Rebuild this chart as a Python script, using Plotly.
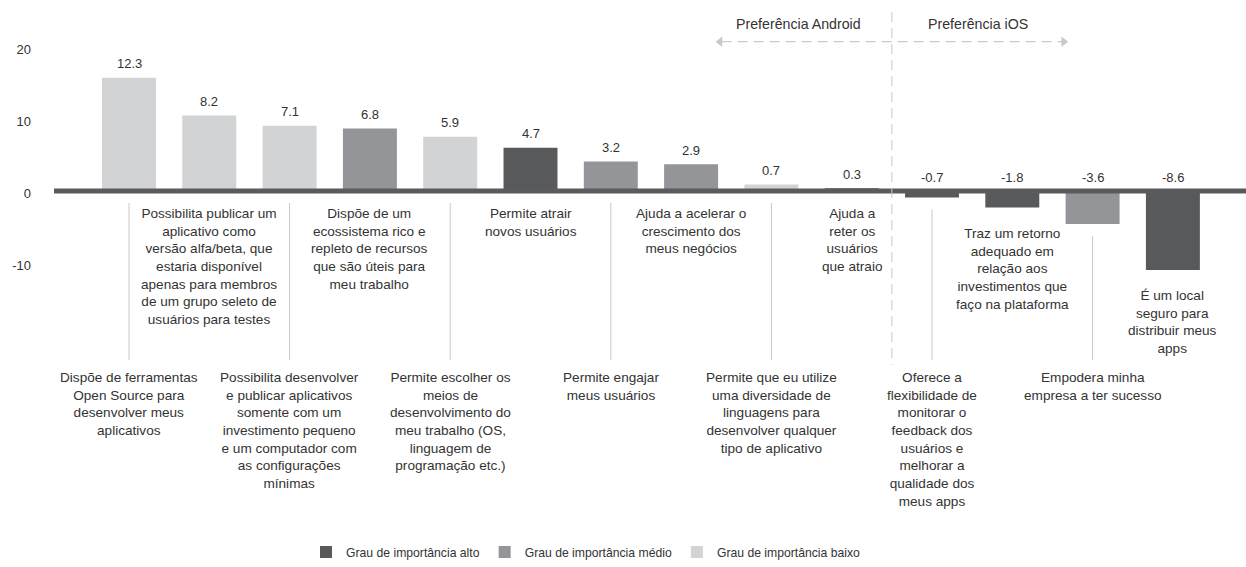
import plotly.graph_objects as go

# ---- data -------------------------------------------------------------
categories = [
    "Dispõe de ferramentas<br>Open Source para<br>desenvolver meus<br>aplicativos",
    "Possibilita publicar um<br>aplicativo como<br>versão alfa/beta, que<br>estaria disponível<br>apenas para membros<br>de um grupo seleto de<br>usuários para testes",
    "Possibilita desenvolver<br>e publicar aplicativos<br>somente com um<br>investimento pequeno<br>e um computador com<br>as configurações<br>mínimas",
    "Dispõe de um<br>ecossistema rico e<br>repleto de recursos<br>que são úteis para<br>meu trabalho",
    "Permite escolher os<br>meios de<br>desenvolvimento do<br>meu trabalho (OS,<br>linguagem de<br>programação etc.)",
    "Permite atrair<br>novos usuários",
    "Permite engajar<br>meus usuários",
    "Ajuda a acelerar o<br>crescimento dos<br>meus negócios",
    "Permite que eu utilize<br>uma diversidade de<br>linguagens para<br>desenvolver qualquer<br>tipo de aplicativo",
    "Ajuda a<br>reter os<br>usuários<br>que atraio",
    "Oferece a<br>flexibilidade de<br>monitorar o<br>feedback dos<br>usuários e<br>melhorar a<br>qualidade dos<br>meus apps",
    "Traz um retorno<br>adequado em<br>relação aos<br>investimentos que<br>faço na plataforma",
    "Empodera minha<br>empresa a ter sucesso",
    "É um local<br>seguro para<br>distribuir meus<br>apps",
]
values = [12.3, 8.2, 7.1, 6.8, 5.9, 4.7, 3.2, 2.9, 0.7, 0.3, -0.7, -1.8, -3.6, -8.6]
importance = ["baixo", "baixo", "baixo", "médio", "baixo", "alto", "médio",
              "médio", "baixo", "alto", "alto", "alto", "médio", "alto"]
levels = ["alto", "médio", "baixo"]
level_names = ["Grau de importância alto", "Grau de importância médio",
               "Grau de importância baixo"]
y_ticks = [20, 10, 0, -10]
side_labels = ["Preferência Android", "Preferência iOS"]

# ---- styling / geometry ------------------------------------------------
W, H = 1246, 567
ML = 32                 # left margin (room for tick labels)
X_FIRST, STEP = 129, 80.3   # pixel centre of first bar, pixels per category
ZERO_PX = 191           # pixel row of the zero line
TICK_ZERO_PX = 193      # pixel row of the "0" tick
BAR_PX = 9.2            # pixels per unit for the bars
TICK_PX = 7.2           # pixels per unit for the tick scale
FONT = "Liberation Sans, Arial, sans-serif"
TXT = "#333333"
LINE = "#c9c9c9"
COLORS = {"alto": "#58595b", "médio": "#939598", "baixo": "#d1d3d4"}
CAT_SIZE = 13.6

x0 = -(X_FIRST - ML) / STEP
x1 = x0 + (W - ML) / STEP
bar_range = [-(H - ZERO_PX) / BAR_PX, ZERO_PX / BAR_PX]
tick_range = [-(H - TICK_ZERO_PX) / TICK_PX, TICK_ZERO_PX / TICK_PX]


def px_y(px):
    return ZERO_PX / BAR_PX - px / BAR_PX


def paper_y(px):
    return 1 - px / H


xs = list(range(len(values)))

fig = go.Figure()

for lvl, name in zip(levels, level_names):
    idx = [i for i, imp in enumerate(importance) if imp == lvl]
    fig.add_trace(go.Bar(
        x=[xs[i] for i in idx], y=[values[i] for i in idx],
        name=name, width=0.672,
        marker=dict(color=COLORS[lvl], line=dict(width=0)),
        hoverinfo="skip",
    ))

# empty trace keeps the tick scale axis alive
fig.add_trace(go.Scatter(x=[None], y=[None], yaxis="y2", showlegend=False,
                         hoverinfo="skip"))

shapes = []
annotations = []

# zero line
shapes.append(dict(type="line", xref="paper", yref="y",
                   x0=(54 - ML) / (W - ML), x1=1, y0=0, y1=0,
                   line=dict(color="#5b5b5d", width=5), layer="above"))

for i, (v, cat) in enumerate(zip(values, categories)):
    # value label
    annotations.append(dict(x=xs[i], y=max(v, 0), xref="x", yref="y",
                            text=f"{v:.1f}", showarrow=False,
                            yanchor="middle", yshift=14,
                            font=dict(size=13, color=TXT)))
    base = min(v, 0)
    if i % 2 == 1:
        # description right under the bar
        annotations.append(dict(x=xs[i], y=base, xref="x", yref="y",
                                text=cat, showarrow=False, align="center",
                                xanchor="center", yanchor="top",
                                yshift=-13 if v >= 0 else -16,
                                font=dict(size=CAT_SIZE, color=TXT)))
    else:
        # description lower down, with a leader line
        shapes.append(dict(type="line", xref="x", yref="y",
                           x0=xs[i], x1=xs[i],
                           y0=base - 12 / BAR_PX, y1=px_y(360),
                           line=dict(color=LINE, width=1)))
        annotations.append(dict(x=xs[i], y=paper_y(368), xref="x",
                                yref="paper", text=cat, showarrow=False,
                                align="center", xanchor="center",
                                yanchor="top",
                                font=dict(size=CAT_SIZE, color=TXT)))

# Android / iOS divider (between the 10th and 11th bars) and arrows
split = 9.5
shapes.append(dict(type="line", xref="x", yref="paper", x0=split, x1=split,
                   y0=paper_y(12), y1=paper_y(365),
                   line=dict(color=LINE, width=1, dash="10px,6px")))
arrow_y = paper_y(41.7)
half = 2.2
shapes.append(dict(type="line", xref="x", yref="paper",
                   x0=split - half + 0.08, x1=split + half - 0.08,
                   y0=arrow_y, y1=arrow_y,
                   line=dict(color=LINE, width=1.3, dash="10px,6px")))
fig.add_trace(go.Scatter(
    x=[split - half + 0.06, split + half - 0.06], y=[arrow_y, arrow_y],
    yaxis="y3", mode="markers", showlegend=False, hoverinfo="skip",
    marker=dict(symbol=["triangle-left", "triangle-right"], size=9,
                color=LINE), cliponaxis=False))

annotations.append(dict(x=split, y=paper_y(24), xref="x", yref="paper",
                        text=side_labels[0], showarrow=False,
                        xanchor="right", yanchor="middle", xshift=-29,
                        font=dict(size=14.2, color=TXT)))
annotations.append(dict(x=split, y=paper_y(24), xref="x", yref="paper",
                        text=side_labels[1], showarrow=False,
                        xanchor="left", yanchor="middle", xshift=34,
                        font=dict(size=14.2, color=TXT)))

fig.update_layout(
    width=W, height=H,
    margin=dict(l=ML, r=0, t=0, b=0),
    paper_bgcolor="white", plot_bgcolor="white",
    font=dict(family=FONT, size=13, color=TXT),
    barmode="overlay",
    xaxis=dict(range=[x0, x1], visible=False, fixedrange=True),
    yaxis=dict(range=bar_range, visible=False, fixedrange=True),
    yaxis2=dict(range=tick_range, overlaying="y", side="left",
                tickvals=y_ticks, ticktext=[str(t) for t in y_ticks],
                showgrid=False, zeroline=False, showline=False, ticks="",
                tickfont=dict(size=13, color=TXT), fixedrange=True),
    yaxis3=dict(range=[0, 1], overlaying="y", visible=False,
                fixedrange=True),
    shapes=shapes,
    annotations=annotations,
    showlegend=True,
    legend=dict(orientation="h", x=(586 - ML) / (W - ML), xanchor="center",
                y=paper_y(552), yanchor="middle", itemwidth=30,
                font=dict(size=12.2, color=TXT), bgcolor="rgba(0,0,0,0)"),
)

fig.write_html("out.html")
